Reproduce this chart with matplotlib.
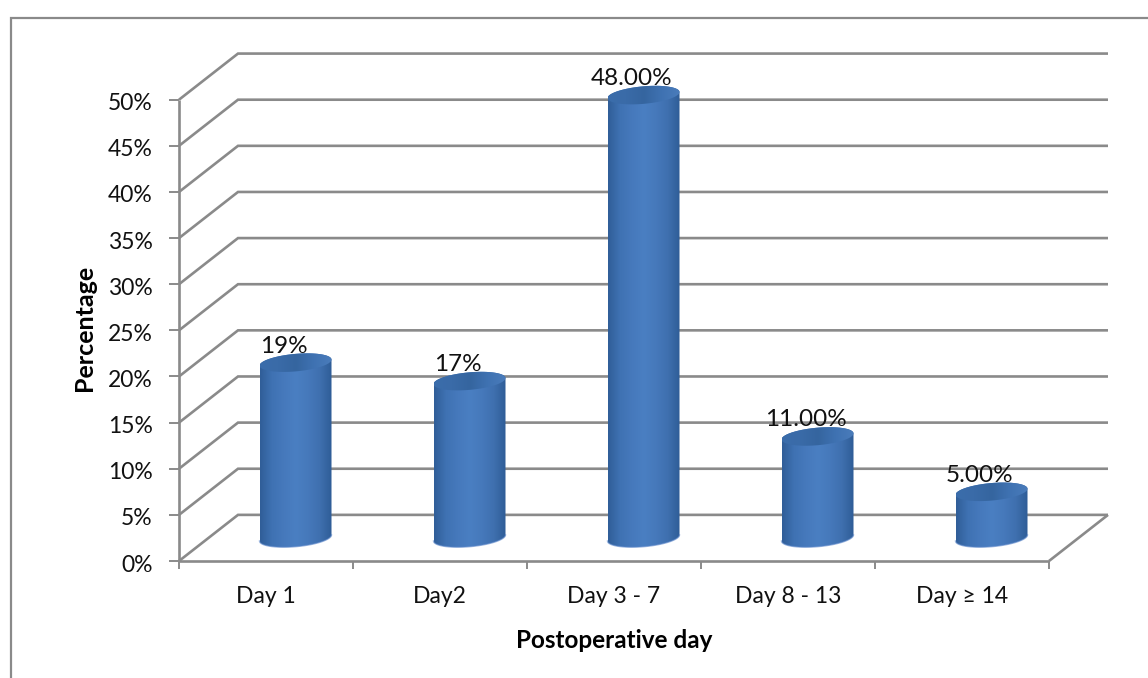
import numpy as np
import matplotlib
matplotlib.use("Agg")
import matplotlib.pyplot as plt
from matplotlib.colors import LinearSegmentedColormap
from matplotlib.patches import PathPatch
from matplotlib.lines import Line2D
from matplotlib.path import Path
from matplotlib.transforms import ScaledTranslation

categories = ["Day 1", "Day2", "Day 3 - 7", "Day 8 - 13", "Day \u2265 14"]
values = [19, 17, 48, 11, 5]
value_labels = ["19%", "17%", "48.00%", "11.00%", "5.00%"]
y_ticks = [0, 5, 10, 15, 20, 25, 30, 35, 40, 45, 50]

W, H = 1148, 678
GRID = "#8a8a8a"
plt.rcParams["font.family"] = ["Lato", "DejaVu Sans"]

fig = plt.figure(figsize=(W / 100, H / 100), dpi=100, facecolor="white")

# Chart-area frame: only the top and left edges fall inside the canvas
fig.add_artist(Line2D([11 / W, 11 / W, 1], [0, 1 - 17.5 / H, 1 - 17.5 / H],
                      transform=fig.transFigure, color=GRID, lw=1.6,
                      solid_joinstyle="miter"))

# Front plane of the 3-D box
left, right, top, bottom = 179, 1049, 99.7, 561
ax = fig.add_axes([left / W, 1 - bottom / H, (right - left) / W, (bottom - top) / H])
ax.set_xlim(0, 5)
ax.set_ylim(0, 50)
ax.patch.set_visible(False)
for s in ax.spines.values():
    s.set_visible(False)

# Depth of the box in data units
DX, DY = 59 / 174, 5.0


def line(xs, ys, z=1):
    ax.plot(xs, ys, color=GRID, lw=1.9, clip_on=False, zorder=z, solid_capstyle="butt",
            solid_joinstyle="miter")


for v in y_ticks:
    line([0, DX, 5 + DX], [v, v + DY, v + DY])
line([0, 0], [0, 50])
line([0, 5], [0, 0])
line([5, 5 + DX], [0, DY])

ax.set_xticks(range(6))
ax.set_xticklabels([])
ax.set_yticks(y_ticks)
ax.set_yticklabels([f"{v}%" for v in y_ticks], fontsize=16.5, color="#111111")
ax.tick_params(axis="both", length=6, width=1.4, color=GRID)
ax.tick_params(axis="y", length=7, pad=12)
for lab in ax.get_yticklabels():
    lab.set_transform(lab.get_transform() + ScaledTranslation(0, -2 / 100, fig.dpi_scale_trans))

for i, c in enumerate(categories):
    ax.text(i + 0.5, -3.9, c, ha="center", va="center", fontsize=16.5, color="#111111")
ax.text(2.5, -8.65, "Postoperative day", ha="center", va="center", fontsize=17.5,
        fontweight="bold", color="black")
ax.text(-0.545, 25.3, "Percentage", ha="center", va="center", rotation=90, fontsize=18,
        fontweight="bold", color="black")

# Cylinders with a horizontal shaded body and a slightly darker cap
body_cmap = LinearSegmentedColormap.from_list(
    "body", ["#305e98", "#3f72b3", "#4679bc", "#4a7fc2", "#4679bb", "#3f70af", "#2f5d97"])
cap_cmap = LinearSegmentedColormap.from_list(
    "cap", ["#3b6dab", "#3a6ba8", "#35659f", "#3f72b2", "#4a7cbb"])

A, B, TILT = 36 / 174, 0.95, 0.33
LABEL_SHIFT = -12 / 174
t = np.linspace(0, 2 * np.pi, 121)

for i, v in enumerate(values):
    cx = i + 0.5 + DX / 2
    y0 = DY / 2
    y1 = v + DY / 2
    ex, ey = A * np.cos(t), B * np.sin(t) + TILT * np.cos(t)
    lower = t[60:121]
    bx = cx + A * np.cos(lower)
    by = y0 + B * np.sin(lower) + TILT * np.cos(lower)
    upper = t[0:61]
    ux = cx + A * np.cos(upper)
    uy = y1 + B * np.sin(upper) + TILT * np.cos(upper)
    verts = np.column_stack([np.r_[bx, ux], np.r_[by, uy]])
    ext = (cx - A, cx + A, y0 - 1.5, y1 + 1.5)
    grad = np.linspace(0, 1, 128).reshape(1, -1)
    im = ax.imshow(grad, cmap=body_cmap, extent=ext, aspect="auto", zorder=3,
                   interpolation="bilinear")
    im.set_clip_path(PathPatch(Path(np.vstack([verts, verts[0]])), transform=ax.transData))
    im.set_clip_box(fig.bbox)
    cap = np.column_stack([cx + ex, y1 + ey])
    imc = ax.imshow(grad, cmap=cap_cmap, extent=ext, aspect="auto", zorder=4,
                    interpolation="bilinear")
    imc.set_clip_path(PathPatch(Path(cap), transform=ax.transData))
    imc.set_clip_box(fig.bbox)
    # Pale rim along the bottom edge
    ax.plot(bx, by, color="#5b86c9", lw=1.0, alpha=0.6, zorder=5, clip_on=False)
    ax.text(cx + LABEL_SHIFT, y1 + 1.8, value_labels[i], ha="center", va="center",
            fontsize=17.5, color="#111111", zorder=6, clip_on=False)

ax.set_xlim(0, 5)
ax.set_ylim(0, 50)
fig.savefig("out.png", dpi=100, facecolor="white")
